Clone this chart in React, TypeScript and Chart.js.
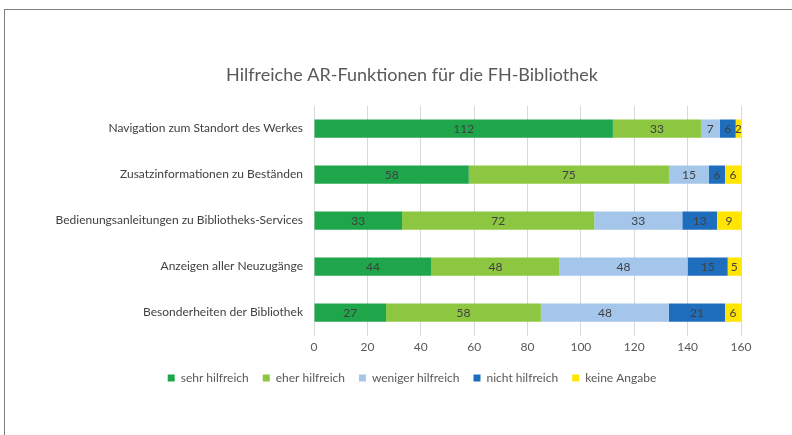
import React, { useEffect, useRef } from "react";
import { Chart, registerables } from "chart.js";

Chart.register(...registerables);

const categories = [
  "Navigation zum Standort des Werkes",
  "Zusatzinformationen zu Beständen",
  "Bedienungsanleitungen zu Bibliotheks-Services",
  "Anzeigen aller Neuzugänge",
  "Besonderheiten der Bibliothek",
];
const seriesNames = ["sehr hilfreich", "eher hilfreich", "weniger hilfreich", "nicht hilfreich", "keine Angabe"];
const sehrHilfreich = [112, 58, 33, 44, 27];
const eherHilfreich = [33, 75, 72, 48, 58];
const wenigerHilfreich = [7, 15, 33, 48, 48];
const nichtHilfreich = [6, 6, 13, 15, 21];
const keineAngabe = [2, 6, 9, 5, 6];
const seriesColors = ["#1FA64A", "#8DC641", "#A3C6EA", "#1F6EBE", "#FFE500"];
const titleText = "Hilfreiche AR-Funktionen für die FH-Bibliothek";

const FONT = "Lato, 'Open Sans', sans-serif";

const valueLabels = {
  id: "valueLabels",
  afterDatasetsDraw(chart: any) {
    const ctx = chart.ctx;
    ctx.save();
    ctx.font = `12px ${FONT}`;
    ctx.fillStyle = "#404040";
    ctx.textAlign = "center";
    ctx.textBaseline = "middle";
    chart.data.datasets.forEach((ds: any, i: number) => {
      const meta = chart.getDatasetMeta(i);
      meta.data.forEach((bar: any, j: number) => {
        const v = ds.data[j];
        const x = (bar.x + bar.base) / 2;
        ctx.fillText(String(v), x, bar.y + 1);
      });
    });
    ctx.restore();
  },
};

export default function App() {
  const ref = useRef<HTMLCanvasElement>(null);
  useEffect(() => {
    const seriesData = [sehrHilfreich, eherHilfreich, wenigerHilfreich, nichtHilfreich, keineAngabe];
    const chart = new Chart(ref.current!, {
      type: "bar",
      data: {
        labels: categories,
        datasets: seriesNames.map((name, i) => ({
          label: name,
          data: seriesData[i],
          backgroundColor: seriesColors[i],
          borderWidth: 0,
          barPercentage: 0.4,
          categoryPercentage: 1,
        })),
      },
      options: {
        indexAxis: "y",
        animation: false,
        responsive: false,
        maintainAspectRatio: false,
        layout: { padding: { top: 0, right: 0, bottom: 56, left: 0 } },
        scales: {
          x: {
            stacked: true,
            min: 0,
            max: 160,
            ticks: { stepSize: 20, color: "#595959", font: { size: 12, family: FONT }, padding: 4 },
            grid: { color: "#D9D9D9", drawTicks: false },
            border: { display: false },
          },
          y: {
            stacked: true,
            ticks: { color: "#404040", font: { size: 12, family: FONT }, padding: 11 },
            grid: { display: false, drawTicks: false },
            border: { display: false },
            afterFit(scale: any) {
              scale.width = 309;
            },
          },
          spacer: {
            type: "linear",
            axis: "y",
            position: "right",
            min: 0,
            max: 1,
            ticks: { display: false },
            grid: { display: false, drawTicks: false },
            border: { display: false },
            afterFit(scale: any) {
              scale.width = 78;
            },
          },
        },
        plugins: {
          title: {
            display: true,
            text: titleText,
            color: "#595959",
            font: { size: 18, family: FONT, weight: "normal" },
            padding: { top: 54, bottom: 20 },
          },
          legend: {
            position: "bottom",
            labels: {
              color: "#595959",
              font: { size: 12, family: FONT },
              boxWidth: 7,
              boxHeight: 7,
              padding: 14,
            },
          },
          tooltip: { enabled: false },
        },
      },
      plugins: [valueLabels],
    } as any);
    return () => chart.destroy();
  }, []);
  return (
    <div style={{ position: "fixed", left: 0, top: 0, width: 792, height: 435, overflow: "hidden", background: "#fff" }}>
      <div
        style={{
          position: "absolute",
          left: 4,
          top: 9,
          width: 814,
          height: 440,
          borderLeft: "1px solid #7f7f7f",
          borderTop: "1px solid #7f7f7f",
        }}
      >
        <canvas ref={ref} width={814} height={440} style={{ display: "block" }} />
      </div>
    </div>
  );
}
